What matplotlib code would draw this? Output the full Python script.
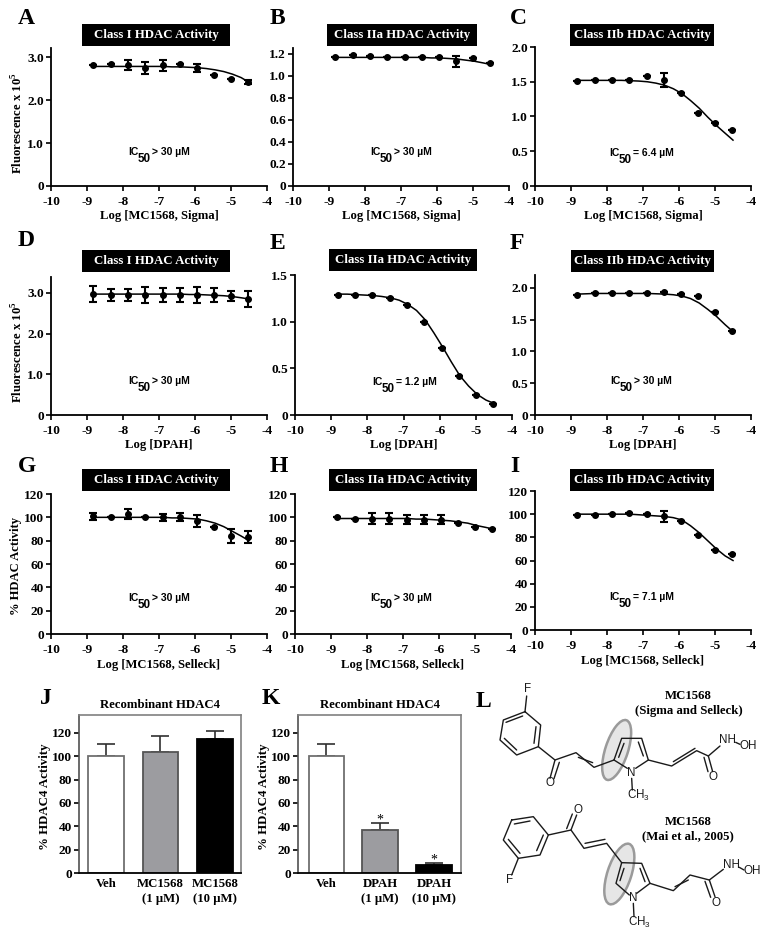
import matplotlib
matplotlib.use("Agg")
import matplotlib.pyplot as plt
from matplotlib.patches import Ellipse, Rectangle

W, H = 769, 938
SERIF = "Liberation Serif"
SANS = "Liberation Sans"
plt.rcParams["font.family"] = [SERIF, "DejaVu Serif"]
plt.rcParams["font.weight"] = "bold"
plt.rcParams["axes.labelweight"] = "bold"
plt.rcParams["axes.unicode_minus"] = False
plt.rcParams["mathtext.fontset"] = "custom"
plt.rcParams["mathtext.bf"] = "Liberation Serif:bold"
plt.rcParams["mathtext.rm"] = "Liberation Serif:bold"

# ---- data ----
log_dose = [-8.82, -8.34, -7.87, -7.38, -6.9, -6.42, -5.94, -5.46, -5.0, -4.52]
curve_x = [-8.8, -8.56, -8.32, -8.08, -7.84, -7.6, -7.36, -7.12, -6.88, -6.64,
           -6.4, -6.16, -5.92, -5.68, -5.44, -5.2, -4.96, -4.72, -4.5]

a_y = [2.83, 2.84, 2.82, 2.76, 2.82, 2.84, 2.75, 2.60, 2.50, 2.43]
a_e = [0, 0, 0.12, 0.14, 0.13, 0, 0.09, 0, 0, 0.05]
a_c = [2.79, 2.79, 2.79, 2.79, 2.79, 2.79, 2.79, 2.79, 2.79, 2.78, 2.78, 2.77, 2.76, 2.74, 2.71, 2.67, 2.61, 2.53, 2.42]
b_y = [1.17, 1.19, 1.18, 1.17, 1.17, 1.17, 1.17, 1.13, 1.16, 1.11]
b_e = [0, 0, 0, 0, 0, 0, 0, 0.05, 0, 0]
b_c = [1.165, 1.165, 1.165, 1.165, 1.165, 1.165, 1.165, 1.165, 1.165, 1.165, 1.165, 1.16, 1.16, 1.155, 1.15, 1.14, 1.13, 1.115, 1.10]
c_y = [1.51, 1.52, 1.52, 1.52, 1.58, 1.52, 1.34, 1.05, 0.91, 0.80]
c_e = [0, 0, 0, 0, 0, 0.10, 0, 0, 0, 0]
c_c = [1.52, 1.52, 1.52, 1.52, 1.52, 1.52, 1.515, 1.51, 1.50, 1.48, 1.45, 1.40, 1.33, 1.23, 1.12, 0.99, 0.87, 0.76, 0.66]
d_y = [2.98, 2.95, 2.95, 2.95, 2.95, 2.95, 2.95, 2.95, 2.92, 2.85]
d_e = [0.20, 0.15, 0.14, 0.20, 0.17, 0.18, 0.20, 0.18, 0.13, 0.20]
d_c = [2.97, 2.97, 2.97, 2.97, 2.97, 2.97, 2.97, 2.97, 2.97, 2.97, 2.97, 2.96, 2.96, 2.95, 2.94, 2.93, 2.91, 2.88, 2.85]
e_y = [1.29, 1.29, 1.285, 1.25, 1.175, 1.0, 0.715, 0.415, 0.215, 0.12]
e_e = [0] * 10
e_c = [1.295, 1.295, 1.29, 1.285, 1.28, 1.27, 1.255, 1.23, 1.185, 1.12, 1.02, 0.88, 0.73, 0.57, 0.42, 0.31, 0.22, 0.16, 0.125]
f_y = [1.88, 1.91, 1.91, 1.91, 1.92, 1.93, 1.90, 1.87, 1.62, 1.32]
f_e = [0] * 10
f_c = [1.90, 1.905, 1.91, 1.91, 1.91, 1.91, 1.91, 1.91, 1.91, 1.905, 1.90, 1.89, 1.87, 1.83, 1.76, 1.66, 1.55, 1.42, 1.31]
g_y = [101, 100, 103, 100, 100, 100, 97, 92, 84, 83]
g_e = [3, 0, 4, 0, 3, 3.5, 5, 0, 6, 5]
g_c = [100, 100, 100, 100, 100, 100, 100, 100, 100, 99.5, 99.5, 99, 98.5, 97, 95, 92, 88, 84, 80]
h_y = [100, 99, 99, 99, 98, 98, 98, 95, 92, 90]
h_e = [0, 0, 4.5, 4.5, 4, 4, 4, 0, 0, 0]
h_c = [99, 99, 99, 99, 99, 99, 99, 99, 99, 98.5, 98.5, 98, 97.5, 97, 96, 95, 93, 91.5, 90]
i_y = [99, 99, 100, 101, 100, 98, 94, 82, 69, 66]
i_e = [0, 0, 0, 0, 0, 5, 0, 0, 0, 0]
i_c = [100, 100, 100, 100, 100, 100, 100, 99.5, 99, 98.5, 98, 97, 95, 90, 84, 77, 70, 64, 60]

panel_title_a = "Class I HDAC Activity"
panel_title_b = "Class IIa HDAC Activity"
panel_title_c = "Class IIb HDAC Activity"

bar_labels_j = ["Veh", "MC1568\n(1 \u00b5M)", "MC1568\n(10 \u00b5M)"]
bar_values_j = [100, 103.5, 115]
bar_errors_j = [10.5, 14, 7]
bar_labels_k = ["Veh", "DPAH\n(1 \u00b5M)", "DPAH\n(10 \u00b5M)"]
bar_values_k = [100, 37, 7]
bar_errors_k = [10.5, 6, 1.5]
bar_stars_k = ["", "*", "*"]
bar_colors = ["white", "#9c9ca0", "black"]

fig = plt.figure(figsize=(W / 100, H / 100), dpi=100, facecolor="white")


def px_axes(x0, y_top, x1, y_bot, **kw):
    return fig.add_axes([x0 / W, 1 - y_bot / H, (x1 - x0) / W, (y_bot - y_top) / H], **kw)


def ftext(x, y, s, **kw):
    kw.setdefault("ha", "left")
    kw.setdefault("va", "center")
    return fig.text(x / W, 1 - y / H, s, **kw)


def curve_panel(box, ylim, yticks, yfmt, y, err, cv, title, title_box, xlabel, ylabel, ic, letter, ylab_pos=0.5):
    ax = px_axes(box[0], box[1], box[2], box[3])
    ax.set_xlim(-10, -4)
    ax.set_ylim(*ylim)
    for s in ("top", "right"):
        ax.spines[s].set_visible(False)
    for s in ("left", "bottom"):
        ax.spines[s].set_linewidth(1.3)
    ax.set_xticks(range(-10, -3))
    ax.set_yticks(yticks)
    ax.set_yticklabels([yfmt(t) for t in yticks])
    ax.tick_params(length=3.5, width=1.2, labelsize=9.6, pad=1.5)
    ax.tick_params(axis="x", pad=3.5)
    ax.plot(curve_x, cv, color="black", lw=1.1, zorder=2, clip_on=False)
    ax.errorbar(log_dose, y, yerr=err, fmt="o", color="black", ms=4.0, elinewidth=1.5,
                capsize=2.9, capthick=1.5, zorder=3, clip_on=False)
    ax.set_xlabel(xlabel, fontsize=9.1, labelpad=2)
    if ylabel:
        ax.set_ylabel(ylabel, fontsize=9.1, labelpad=1.5, y=ylab_pos)
    # title box
    bx0, by0, bx1, by1 = title_box
    fig.patches.append(Rectangle((bx0 / W, 1 - by1 / H), (bx1 - bx0) / W, (by1 - by0) / H,
                                 transform=fig.transFigure, fc="black", ec="none"))
    ftext((bx0 + bx1) / 2, (by0 + by1) / 2, title, color="white", fontsize=9.3, ha="center")
    # IC50 annotation
    ix, iy, tail = ic
    ftext(ix, iy, "IC", family=SANS, fontsize=7.5)
    ftext(ix + 10, iy + 7, "50", family=SANS, fontsize=8.4)
    ftext(ix + 24, iy, tail, family=[SANS, "DejaVu Sans"], fontsize=7.5)
    lx, ly = letter[1], letter[2]
    ftext(lx, ly, letter[0], fontsize=17)
    return ax


def fmt1(t):
    return "0" if t == 0 else f"{t:.1f}"


def fmt0(t):
    return f"{t:d}"


FL = "Fluorescence x 10$^{\\mathbf{5}}$"

L30 = "> 30 \u00b5M"
curve_panel((51, 48, 267, 186), (0, 3.22), [0, 1, 2, 3], fmt1, a_y, a_e, a_c, panel_title_a, (82, 24, 230, 46),
            "Log [MC1568, Sigma]", FL, (128, 152, L30), ("A", 18, 18), ylab_pos=0.455)
curve_panel((293, 48, 509, 186), (0, 1.25), [0, .2, .4, .6, .8, 1, 1.2], fmt1, b_y, b_e, b_c, panel_title_b, (327, 24, 477, 46),
            "Log [MC1568, Sigma]", None, (370, 152, L30), ("B", 270, 18))
curve_panel((535, 47, 751, 186), (0, 2.0), [0, .5, 1, 1.5, 2], fmt1, c_y, c_e, c_c, panel_title_c, (570, 24, 714, 46),
            "Log [MC1568, Sigma]", None, (609, 153, "= 6.4 \u00b5M"), ("C", 510, 18))
curve_panel((51, 277, 267, 415), (0, 3.39), [0, 1, 2, 3], fmt1, d_y, d_e, d_c, panel_title_a, (82, 250, 230, 272),
            "Log [DPAH]", FL, (128, 381, L30), ("D", 18, 241), ylab_pos=0.455)
curve_panel((295, 275, 512, 415), (0, 1.5), [0, .5, 1, 1.5], fmt1, e_y, e_e, e_c, panel_title_b, (329, 249, 477, 271),
            "Log [DPAH]", None, (372, 382, "= 1.2 \u00b5M"), ("E", 270, 243))
curve_panel((535, 275, 751, 415), (0, 2.2), [0, .5, 1, 1.5, 2], fmt1, f_y, f_e, f_c, panel_title_c, (571, 250, 714, 272),
            "Log [DPAH]", None, (610, 381, L30), ("F", 510, 243))
curve_panel((51, 494, 267, 634), (0, 120), list(range(0, 121, 20)), fmt0, g_y, g_e, g_c, panel_title_a, (82, 469, 230, 491),
            "Log [MC1568, Selleck]", "% HDAC Activity", (128, 598, L30), ("G", 18, 466), ylab_pos=0.485)
curve_panel((295, 494, 511, 634), (0, 120), list(range(0, 121, 20)), fmt0, h_y, h_e, h_c, panel_title_b, (329, 469, 477, 491),
            "Log [MC1568, Selleck]", None, (370, 598, L30), ("H", 270, 466))
curve_panel((535, 491, 751, 630), (0, 120), list(range(0, 121, 20)), fmt0, i_y, i_e, i_c, panel_title_c, (570, 469, 714, 491),
            "Log [MC1568, Selleck]", None, (609, 597, "= 7.1 \u00b5M"), ("I", 510, 466))


def bar_panel(x0, x1, xlim, vals, errs, labels, stars, letter, lx):
    ax = px_axes(x0, 715, x1, 873)
    ax.set_xlim(*xlim)
    ax.set_ylim(0, 135.4)
    for s in ("top", "right", "left"):
        ax.spines[s].set_color("#808080")
        ax.spines[s].set_linewidth(1.2)
    ax.spines["left"].set_color("#505050")
    ax.spines["bottom"].set_linewidth(1.3)
    edge = ["#707070", "#555555", "black"]
    ax.bar(range(3), vals, width=0.65, color=bar_colors, edgecolor=edge, linewidth=1.3, zorder=2)
    for i, (v, e) in enumerate(zip(vals, errs)):
        ax.errorbar(i, v, yerr=[[0], [e]], color="#303030", elinewidth=1.2, capsize=6.5, capthick=1.2, zorder=1)
        if stars[i]:
            ax.text(i, v + e - 3, stars[i], ha="center", va="bottom", fontsize=10, fontweight="normal",
                    linespacing=1)
    ax.set_xticks(range(3))
    ax.set_xticklabels(labels, fontsize=9.2, linespacing=1.4)
    ax.set_yticks(range(0, 121, 20))
    ax.tick_params(axis="y", length=3.5, width=1.2, labelsize=9.6, pad=1.5)
    ax.tick_params(axis="x", length=0, pad=3.5)
    ax.set_ylabel("% HDAC4 Activity", fontsize=9.3, labelpad=1, y=0.485)
    ftext((x0 + x1) / 2, 705, "Recombinant HDAC4", fontsize=9.2, ha="center")
    ftext(lx, 698, letter, fontsize=17)


bar_panel(79, 241, (-0.495, 2.477), bar_values_j, bar_errors_j, bar_labels_j, ["", "", ""], "J", 40)
bar_panel(298, 461, (-0.52, 2.5), bar_values_k, bar_errors_k, bar_labels_k, bar_stars_k, "K", 262)

ftext(476, 701, "L", fontsize=17)

# ---- chemical structures, drawn in the crop's own coordinates ----
mol = px_axes(470, 680, 769, 938)
mol.set_xlim(0, 897)
mol.set_ylim(774, 0)
mol.axis("off")
mol.patch.set_alpha(0)


def bonds(*paths):
    for p in paths:
        mol.plot([q[0] for q in p], [q[1] for q in p], color="#1a1a1a", lw=1.0, solid_capstyle="round", zorder=2)


def atom(x, y, s, size=8.4):
    mol.text(x, y, s, family=SANS, fontsize=size, fontweight="normal", ha="center", va="center", zorder=3,
             color="#1a1a1a")


for cx, cy, w, h, ang in ((440, 210, 68, 188, 18), (448, 582, 72, 190, 18)):
    mol.add_patch(Ellipse((cx, cy), w, h, angle=ang, fc="#e6e6e6", ec="#9a9a9a", lw=1.8, zorder=1))

# top structure
bonds([(165, 95), (212, 135), (205, 200), (140, 225), (90, 180), (100, 120), (165, 95)],
      [(158, 108), (108, 127)], [(198, 140), (192, 190)], [(140, 210), (103, 175)],
      [(165, 95), (170, 48)], [(205, 200), (255, 240), (318, 218), (372, 262), (432, 240)],
      [(255, 240), (240, 295)], [(268, 247), (252, 296)], [(325, 232), (368, 248)],
      [(432, 240), (455, 175), (515, 175), (535, 240), (497, 265)], [(432, 240), (472, 265)],
      [(446, 232), (462, 190)], [(505, 186), (520, 228)], [(485, 295), (487, 330)],
      [(535, 240), (605, 258), (680, 212), (715, 228), (750, 198)], [(610, 245), (675, 205)],
      [(715, 228), (728, 275)], [(702, 232), (714, 275)], [(797, 187), (810, 193)])
atom(172, 28, "F")
atom(240, 310, "O")
atom(484, 280, "N")
atom(507, 345, "CH$_{\\mathregular{3}}$")
atom(772, 180, "NH")
atom(835, 198, "OH")
atom(728, 290, "O")

# bottom structure
bonds([(125, 420), (190, 410), (235, 465), (210, 525), (145, 535), (100, 480), (125, 420)],
      [(133, 432), (180, 423)], [(220, 465), (200, 512)], [(150, 520), (115, 478)],
      [(145, 535), (125, 585)], [(235, 465), (303, 450), (342, 505), (410, 490), (455, 548)],
      [(303, 450), (320, 405)], [(290, 446), (307, 402)], [(345, 490), (405, 478)],
      [(455, 548), (515, 550), (540, 610), (500, 640)], [(455, 548), (438, 610), (478, 645)],
      [(462, 565), (450, 602)], [(510, 565), (525, 605)], [(490, 670), (492, 710)],
      [(540, 610), (610, 632), (660, 585), (718, 600), (760, 568)], [(615, 620), (655, 600)],
      [(718, 600), (735, 650)], [(705, 604), (722, 652)], [(808, 562), (822, 570)])
atom(118, 600, "F")
atom(325, 390, "O")
atom(490, 655, "N")
atom(510, 727, "CH$_{\\mathregular{3}}$")
atom(785, 555, "NH")
atom(848, 572, "OH")
atom(737, 668, "O")

for (tx, ty, s) in ((655, 47, "MC1568"), (655, 92, "(Sigma and Selleck)"),
                    (655, 425, "MC1568"), (655, 470, "(Mai et al., 2005)")):
    mol.text(tx, ty, s, fontsize=9.2, ha="center", va="center", color="black", zorder=4)

fig.savefig("out.png", dpi=100)
